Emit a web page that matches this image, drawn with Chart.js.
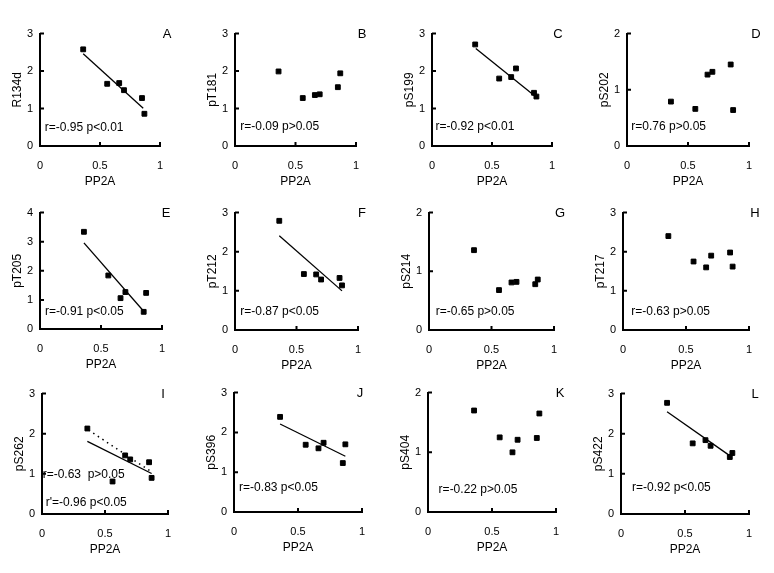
<!DOCTYPE html>
<html>
<head>
<meta charset="utf-8">
<script src="https://cdn.jsdelivr.net/npm/chart.js@4.4.1/dist/chart.umd.min.js"></script>
<style>
  html, body { margin: 0; padding: 0; background: #fff; }
  #wrap { position: relative; width: 774px; height: 573px; background: #fff; overflow: hidden; }
  #wrap canvas { position: absolute; }
</style>
</head>
<body>
<div id="wrap"></div>
<script>
// PP2A values (x) shared by all panels
const pp2a = [0.36, 0.56, 0.66, 0.70, 0.85, 0.87];

const panelLetters = ['A', 'B', 'C', 'D', 'E', 'F', 'G', 'H', 'I', 'J', 'K', 'L'];
const yTitles = ['R134d', 'pT181', 'pS199', 'pS202', 'pT205', 'pT212', 'pS214', 'pT217', 'pS262', 'pS396', 'pS404', 'pS422'];
const yMaxes = [3, 3, 3, 2, 4, 3, 2, 3, 3, 3, 2, 3];
const xTicks = [0, 0.5, 1];
const xTickLabels = ['0', '0.5', '1'];

// series values
const r134d = [2.58, 1.66, 1.68, 1.49, 1.28, 0.86];
const pT181 = [1.99, 1.28, 1.36, 1.38, 1.57, 1.94];
const pS199 = [2.71, 1.80, 1.84, 2.07, 1.42, 1.32];
const pS202 = [0.79, 0.66, 1.27, 1.32, 1.45, 0.64];
const pT205 = [3.34, 1.84, 1.06, 1.27, 0.59, 1.24];
const pT212 = [2.79, 1.43, 1.42, 1.29, 1.33, 1.14];
const pS214 = [1.36, 0.68, 0.81, 0.82, 0.78, 0.86];
const pT217 = [2.40, 1.75, 1.60, 1.90, 1.98, 1.62];
const pS262 = [2.13, 0.81, 1.46, 1.36, 1.29, 0.90];
const pS396 = [2.39, 1.69, 1.60, 1.74, 1.23, 1.70];
const pS404 = [1.70, 1.25, 1.00, 1.21, 1.24, 1.65];
const pS422 = [2.77, 1.76, 1.84, 1.70, 1.42, 1.52];

// fitted lines, [x, y] end points
const fitR134d = [[0.36, 2.46], [0.86, 1.01]];
const fitPS199 = [[0.365, 2.60], [0.87, 1.30]];
const fitPT205 = [[0.36, 2.96], [0.85, 0.61]];
const fitPT212 = [[0.36, 2.41], [0.87, 1.00]];
const fitPS262 = [[0.36, 1.81], [0.87, 1.01]];
const fitPS262b = [[0.37, 2.09], [0.86, 1.07]];  // dotted, without outlier
const fitPS396 = [[0.36, 2.21], [0.87, 1.40]];
const fitPS422 = [[0.36, 2.55], [0.86, 1.43]];

const stats = [
  ['r=-0.95 p<0.01'], ['r=-0.09 p>0.05'], ['r=-0.92 p<0.01'], ['r=0.76 p>0.05'],
  ['r=-0.91 p<0.05'], ['r=-0.87 p<0.05'], ['r=-0.65 p>0.05'], ['r=-0.63 p>0.05'],
  ['r=-0.63  p>0.05', "r'=-0.96 p<0.05"], ['r=-0.83 p<0.05'], ['r=-0.22 p>0.05'], ['r=-0.92 p<0.05']
];

const seriesList = [r134d, pT181, pS199, pS202, pT205, pT212, pS214, pT217, pS262, pS396, pS404, pS422];
const solidFits = [fitR134d, null, fitPS199, null, fitPT205, fitPT212, null, null, fitPS262, fitPS396, null, fitPS422];
const dottedFits = [null, null, null, null, null, null, null, null, fitPS262b, null, null, null];

// layout: plot area boxes [left, top, right, bottom] in page px
const plotBoxes = [
  [40, 32, 160, 146], [235, 32, 356, 146], [432, 32, 552, 146], [627, 32, 749, 146],
  [40, 211, 162, 329], [235, 211, 358, 330], [429, 211, 554, 330], [623, 211, 749, 330],
  [42, 392, 168, 514], [234, 391, 362, 512], [428, 391, 556, 512], [621, 392, 749, 514]
];
// stat text anchor (left, middle) in data units, one per line
const statPos = [
  [[0.04, 0.5]], [[0.044, 0.51]], [[0.03, 0.51]], [[0.035, 0.35]],
  [[0.04, 0.59]], [[0.043, 0.46]], [[0.054, 0.32]], [[0.066, 0.48]],
  [[0.005, 0.99], [0.03, 0.28]], [[0.04, 0.6]], [[0.083, 0.38]], [[0.086, 0.65]]
];
const letterDx = [7, 6, 6, 7, 4, 4, 6, 6, -5, -2, 4, 6];

const M = { left: 34, top: 12, right: 22, bottom: 44 };
const FONT = "'Liberation Sans', Arial, sans-serif";

const decorPlugin = {
  id: 'decor',
  afterDraw(chart) {
    const ctx = chart.ctx;
    const i = chart.options.panelIndex;
    const xs = chart.scales.x, ys = chart.scales.y;
    const area = chart.chartArea;
    ctx.save();
    ctx.strokeStyle = '#000';
    ctx.lineWidth = 2;
    ctx.beginPath();
    ys.ticks.forEach(t => {
      if (t.value === 0) return;
      const py = ys.getPixelForValue(t.value);
      ctx.moveTo(area.left, py);
      ctx.lineTo(area.left + 4, py);
    });
    xs.ticks.forEach(t => {
      if (t.value === 0) return;
      const px = xs.getPixelForValue(t.value);
      ctx.moveTo(px, area.bottom);
      ctx.lineTo(px, area.bottom - 4);
    });
    ctx.stroke();

    ctx.fillStyle = '#000';
    ctx.font = '13px ' + FONT;
    ctx.textAlign = 'center';
    ctx.textBaseline = 'middle';
    ctx.fillText(panelLetters[i], area.right + letterDx[i], area.top + 1);

    ctx.font = '12px ' + FONT;
    ctx.textAlign = 'left';
    stats[i].forEach((txt, k) => {
      const p = statPos[i][k];
      ctx.fillText(txt, xs.getPixelForValue(p[0]), ys.getPixelForValue(p[1]));
    });
    ctx.restore();
  }
};

const wrap = document.getElementById('wrap');

seriesList.forEach((vals, i) => {
  const box = plotBoxes[i];
  const canvas = document.createElement('canvas');
  const w = box[2] - box[0] + M.left + M.right;
  const h = box[3] - box[1] + M.top + M.bottom;
  canvas.width = w;
  canvas.height = h;
  canvas.style.left = (box[0] - M.left) + 'px';
  canvas.style.top = (box[1] - M.top) + 'px';
  canvas.style.width = w + 'px';
  canvas.style.height = h + 'px';
  wrap.appendChild(canvas);

  const datasets = [{
    data: pp2a.map((x, k) => ({ x: x, y: vals[k] })),
    pointStyle: 'rect',
    pointRadius: 3.4,
    borderWidth: 1,
    backgroundColor: '#000',
    borderColor: '#000',
    showLine: false
  }];
  if (solidFits[i]) {
    datasets.push({
      data: solidFits[i].map(p => ({ x: p[0], y: p[1] })),
      showLine: true,
      pointRadius: 0,
      borderColor: '#000',
      borderWidth: 1.3
    });
  }
  if (dottedFits[i]) {
    datasets.push({
      data: dottedFits[i].map(p => ({ x: p[0], y: p[1] })),
      showLine: true,
      pointRadius: 0,
      borderColor: '#000',
      borderWidth: 1.5,
      borderDash: [1.5, 4]
    });
  }

  new Chart(canvas.getContext('2d'), {
    type: 'scatter',
    data: { datasets: datasets },
    options: {
      panelIndex: i,
      responsive: false,
      animation: false,
      layout: { padding: { left: 0, top: M.top, right: M.right, bottom: 0 } },
      plugins: { legend: { display: false }, tooltip: { enabled: false } },
      scales: {
        x: {
          type: 'linear',
          min: 0,
          max: 1,
          afterBuildTicks: s => { s.ticks = xTicks.map(v => ({ value: v })); },
          afterFit: s => { s.height = M.bottom; },
          grid: { display: false, drawTicks: false },
          border: { display: true, color: '#000', width: 2 },
          ticks: {
            color: '#000',
            font: { family: FONT, size: 11 },
            padding: 13,
            callback: v => xTickLabels[xTicks.indexOf(v)]
          },
          title: { display: true, text: 'PP2A', color: '#000', font: { family: FONT, size: 12 }, padding: { top: 0, bottom: 1 } }
        },
        y: {
          type: 'linear',
          min: 0,
          max: yMaxes[i],
          ticks: { stepSize: 1, color: '#000', font: { family: FONT, size: 11 }, padding: 7 },
          afterFit: s => { s.width = M.left; },
          grid: { display: false, drawTicks: false },
          border: { display: true, color: '#000', width: 2 },
          title: { display: true, text: yTitles[i], color: '#000', font: { family: FONT, size: 12 }, padding: { top: 4, bottom: 0 } }
        }
      }
    },
    plugins: [decorPlugin]
  });
});
</script>
</body>
</html>
